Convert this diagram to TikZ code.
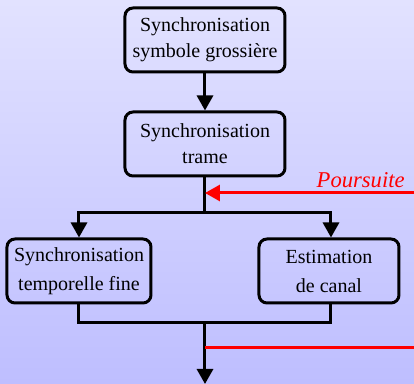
\documentclass[tikz,border=0pt]{standalone}
\usepackage{fontspec}
\setmainfont{Liberation Serif}
\usepackage{xcolor}
\definecolor{bgtop}{RGB}{226,226,255}
\definecolor{bgbottom}{RGB}{190,190,255}
\definecolor{trackred}{RGB}{255,0,0}
\usetikzlibrary{arrows.meta,positioning,calc}
\tikzset{
  syncbox/.style={draw=black,line width=1.5pt,rounded corners=4pt,align=center,minimum height=32pt,inner sep=2pt},
  syncarrow/.style={-{Triangle[length=7.5pt,width=8pt]},line width=1.5pt,black},
  syncline/.style={line width=1.5pt,black},
  trackline/.style={line width=1.5pt,trackred}
}
\begin{document}
\begin{tikzpicture}[x=1pt,y=1pt,node distance=18.5pt,font=\fontsize{10}{13}\selectfont]
\shade[top color=bgtop,bottom color=bgbottom] (0,0) rectangle (207,-192);
\useasboundingbox (0,0) rectangle (207,-192);
\node[syncbox,minimum width=80pt] (coarse) at (102.5,-20) {Synchronisation\\symbole grossière};
\node[syncbox,minimum width=80pt,below=of coarse] (frame) {Synchronisation\\trame};
\node[syncbox,minimum width=72pt] (fine) at (39.5,-135.5) {Synchronisation\\[1.5pt]temporelle fine};
\node[syncbox,minimum width=70pt] (chan) at (164.5,-135.5) {Estimation\\[1.5pt]de canal};
\coordinate (split) at (102.5,-106.5);
\coordinate (merge) at (102.5,-161.5);
\coordinate (tapin) at (102.5,-96.5);
\coordinate (tapout) at (102.5,-174);
\coordinate (out) at (102.5,-192);
\coordinate (edge) at (207.6,0);
\draw[syncarrow] (coarse)--(frame);
\draw[syncline] (frame)--(split);
\draw[syncarrow] (split)-|(fine.north);
\draw[syncarrow] (split)-|($(chan.north)+(1,0)$);
\draw[syncline] (fine.south)|-(merge);
\draw[syncline] ($(chan.south)+(1,0)$)|-(merge);
\draw[syncarrow] (merge)--(out);
\draw[trackline,-{Triangle[length=7.5pt,width=8pt]}] (tapout)-|(edge|-tapin)--(tapin);
\node[text=trackred,font=\fontsize{11.3}{13}\selectfont\itshape,anchor=south east,inner sep=0pt] (track) at (202.5,-94) {Poursuite};
\end{tikzpicture}
\end{document}
